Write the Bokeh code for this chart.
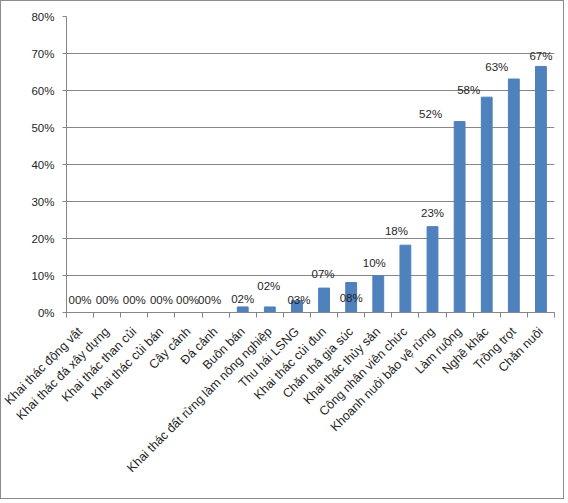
from bokeh.plotting import figure
from bokeh.models import ColumnDataSource, FixedTicker, PrintfTickFormatter, Range1d
from bokeh.core.properties import value
from bokeh.embed import file_html
from bokeh.resources import INLINE
import math

categories = [
    "Khai thác động vật", "Khai thác đá xây dựng", "Khai thác than củi",
    "Khai thác củi bán", "Cây cảnh", "Đá cảnh", "Buôn bán",
    "Khai thác đất rừng làm nông nghiệp", "Thu hái LSNG", "Khai thác củi đun",
    "Chăn thả gia súc", "Khai thác thủy sản", "Công nhân viên chức",
    "Khoanh nuôi bảo vệ rừng", "Làm ruộng", "Nghề khác", "Trồng trọt", "Chăn nuôi",
]
percent = [0, 0, 0, 0, 0, 0, 1.5, 1.5, 3.2, 6.6, 8.1, 9.9, 18.2, 23.2, 51.6, 58.2, 63.1, 66.5]
labels = ["00%", "00%", "00%", "00%", "00%", "00%", "02%", "02%", "03%", "07%",
          "08%", "10%", "18%", "23%", "52%", "58%", "63%", "67%"]
y_ticks = [0, 10, 20, 30, 40, 50, 60, 70, 80]

# data labels were dragged around by hand in the original, so nudge them (pixels)
label_dx = [0, 0, 0, 0, -1, -6, 0, -1, 2, -1, 0, -4, -9, 0, -29, -18, -17, 0]
label_dy = [-13, -13, -13, -13, -13, -13, -8, -21, -1, -14, 15, -13, -14, -14, -8, -7, -12, -10]

FONT = "Liberation Sans"
GRID = "#868686"
TEXT = "#1f1f1f"

x = list(range(len(categories)))
src = ColumnDataSource(data=dict(x=x, pct=percent, lab=labels, dx=label_dx, dy=label_dy))

p = figure(width=564, height=499, output_backend="svg", toolbar_location=None,
           x_range=Range1d(-0.5, len(categories) - 0.5), y_range=Range1d(0, 80),
           min_border_left=65, min_border_right=11, min_border_top=15, min_border_bottom=188)
p.styles = {"border": "1px solid #8c8c8c"}
p.outline_line_color = None
p.background_fill_color = "white"
p.border_fill_color = "white"

p.vbar(x="x", top="pct", width=0.4, source=src, fill_color="#4f81bd", line_color="#4f81bd")
p.text(x="x", y="pct", text="lab", source=src, x_offset="dx", y_offset="dy",
       text_align="center", text_baseline="middle", text_font=value(FONT),
       text_font_size="11.5px", text_color=TEXT)

# x axis: names under each bar, little ticks between the bars
p.xaxis.ticker = FixedTicker(ticks=x, minor_ticks=[i - 0.5 for i in range(len(categories) + 1)])
p.xaxis.major_label_overrides = {i: c for i, c in enumerate(categories)}
p.xaxis.major_label_orientation = math.pi / 4
p.xaxis.major_tick_line_color = None
p.xaxis.minor_tick_in = 0
p.xaxis.minor_tick_out = 5
p.xaxis.minor_tick_line_color = GRID
p.xaxis.axis_line_color = GRID
p.xaxis.major_label_standoff = 11
p.xaxis.major_label_text_font_size = "12.5px"

p.yaxis.ticker = FixedTicker(ticks=y_ticks)
p.yaxis.formatter = PrintfTickFormatter(format="%d%%")
p.yaxis.major_tick_in = 0
p.yaxis.major_tick_out = 4
p.yaxis.major_tick_line_color = GRID
p.yaxis.axis_line_color = GRID
p.yaxis.minor_tick_line_color = None
p.yaxis.major_label_standoff = 8
p.yaxis.major_label_text_font_size = "11.5px"

for ax in (p.xaxis, p.yaxis):
    ax.major_label_text_font = FONT
    ax.major_label_text_color = TEXT

p.xgrid.grid_line_color = None
p.ygrid.ticker = FixedTicker(ticks=y_ticks)
p.ygrid.grid_line_color = GRID

open("out.html", "w").write(file_html(p, INLINE))
